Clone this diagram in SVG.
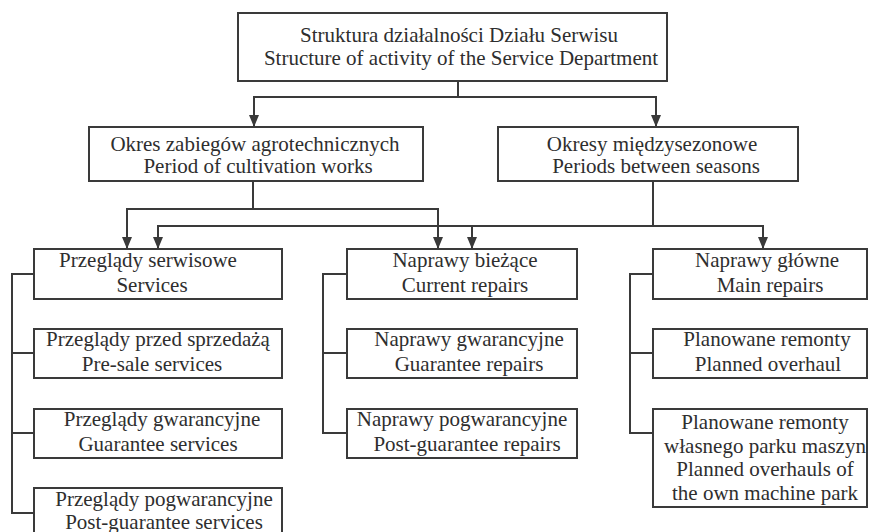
<svg xmlns="http://www.w3.org/2000/svg" width="869" height="532" viewBox="0 0 869 532">
  <defs>
    <marker id="arrow" viewBox="0 0 12 10" refX="12" refY="5" markerWidth="12" markerHeight="10" markerUnits="userSpaceOnUse" orient="auto">
      <path d="M0,0 L12,5 L0,10 Z" fill="#3a3a3a"/>
    </marker>
    <style>
      .box { fill: #ffffff; stroke: #3a3a3a; stroke-width: 2; }
      .lbl { font-family: 'Liberation Serif', Tinos, 'Times New Roman', 'DejaVu Serif', serif; font-size: 21px; fill: #2e2e2e; text-anchor: middle; }
      .wire { fill: none; stroke: #3a3a3a; stroke-width: 2; }
      .wire.arr { marker-end: url(#arrow); }
    </style>
  </defs>
  <rect width="869" height="532" fill="#ffffff"/>

  <!-- connectors -->
  <g id="connectors">
    <path class="wire arr" d="M458 81 V97 H254 V127"/>
    <path class="wire arr" d="M458 97 H656 V127"/>
    <path class="wire arr" d="M253 181 V209 H127 V249"/>
    <path class="wire arr" d="M253 209 H438 V249"/>
    <path class="wire arr" d="M653 181 V226 H158 V249"/>
    <path class="wire arr" d="M472 226 V249"/>
    <path class="wire arr" d="M653 226 H763 V249"/>
    <!-- side brackets linking each column -->
    <path class="wire" d="M34 274 H12 V513 H34 M12 353 H34 M12 433 H34"/>
    <path class="wire" d="M347 274 H323 V433 H347 M323 353 H347"/>
    <path class="wire" d="M653 274 H630 V433 H653 M630 353 H653"/>
  </g>

  <g id="root">
    <rect class="box" x="238" y="13" width="429" height="68"/>
    <text class="lbl" x="459" y="42">Struktura działalności Działu Serwisu</text>
    <text class="lbl" x="461" y="65">Structure of activity of the Service Department</text>
  </g>

  <g id="cultivation">
    <rect class="box" x="89" y="127" width="334" height="54"/>
    <text class="lbl" x="255" y="151">Okres zabiegów agrotechnicznych</text>
    <text class="lbl" x="258" y="173">Period of cultivation works</text>
  </g>

  <g id="between-seasons">
    <rect class="box" x="498" y="127" width="300" height="54"/>
    <text class="lbl" x="652" y="151">Okresy międzysezonowe</text>
    <text class="lbl" x="656" y="173">Periods between seasons</text>
  </g>

  <g id="services">
    <rect class="box" x="34" y="249" width="248" height="50"/>
    <text class="lbl" x="148" y="267">Przeglądy serwisowe</text>
    <text class="lbl" x="152" y="292">Services</text>
  </g>

  <g id="pre-sale">
    <rect class="box" x="34" y="329" width="248" height="49"/>
    <text class="lbl" x="158" y="346">Przeglądy przed sprzedażą</text>
    <text class="lbl" x="152" y="371">Pre-sale services</text>
  </g>

  <g id="guarantee-services">
    <rect class="box" x="34" y="409" width="248" height="49"/>
    <text class="lbl" x="162" y="426">Przeglądy gwarancyjne</text>
    <text class="lbl" x="158" y="451">Guarantee services</text>
  </g>

  <g id="post-guarantee-services">
    <rect class="box" x="34" y="488" width="248" height="54"/>
    <text class="lbl" x="164" y="506">Przeglądy pogwarancyjne</text>
    <text class="lbl" x="164" y="529">Post-guarantee services</text>
  </g>

  <g id="current-repairs">
    <rect class="box" x="347" y="249" width="230" height="50"/>
    <text class="lbl" x="465" y="267">Naprawy bieżące</text>
    <text class="lbl" x="465" y="292">Current repairs</text>
  </g>

  <g id="guarantee-repairs">
    <rect class="box" x="347" y="329" width="230" height="49"/>
    <text class="lbl" x="469" y="346">Naprawy gwarancyjne</text>
    <text class="lbl" x="469" y="371">Guarantee repairs</text>
  </g>

  <g id="post-guarantee-repairs">
    <rect class="box" x="347" y="409" width="230" height="49"/>
    <text class="lbl" x="462" y="426">Naprawy pogwarancyjne</text>
    <text class="lbl" x="467" y="451">Post-guarantee repairs</text>
  </g>

  <g id="main-repairs">
    <rect class="box" x="653" y="249" width="214" height="50"/>
    <text class="lbl" x="767" y="267">Naprawy główne</text>
    <text class="lbl" x="770" y="292">Main repairs</text>
  </g>

  <g id="planned-overhaul">
    <rect class="box" x="653" y="329" width="214" height="49"/>
    <text class="lbl" x="767" y="346">Planowane remonty</text>
    <text class="lbl" x="768" y="371">Planned overhaul</text>
  </g>

  <g id="own-park-overhaul">
    <rect class="box" x="653" y="409" width="214" height="98"/>
    <text class="lbl" x="765" y="429">Planowane remonty</text>
    <text class="lbl" x="765" y="453">własnego parku maszyn</text>
    <text class="lbl" x="765" y="476">Planned overhauls of</text>
    <text class="lbl" x="765" y="500">the own machine park</text>
  </g>
</svg>
